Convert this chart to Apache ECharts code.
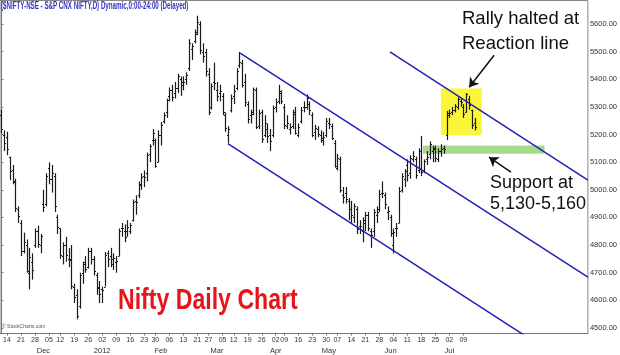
<!DOCTYPE html>
<html><head><meta charset="utf-8">
<script src="https://cdn.jsdelivr.net/npm/echarts@6/dist/echarts.min.js"></script>
<style>html,body{margin:0;padding:0;background:#fff}#c{width:620px;height:355px}</style>
</head><body><div id="c"></div>
<script>
// ---- trading calendar (NSE) ----
const startDate = '2011-11-09';
const endDate = '2012-07-13';
const holidays = ['2011-11-10','2011-12-06','2012-01-26','2012-02-20','2012-03-08','2012-04-05','2012-04-06','2012-05-01'];
const monthNames = ['Jan','Feb','Mar','Apr','May','Jun','Jul','Aug','Sep','Oct','Nov','Dec'];

// ---- OHLC values, one per trading day ----
const open = [5270,5200,5190,5120,5070,5030,4930,4880,4780,4800,4700,4740,4800,4850,4800,4950,4950,5080,5040,5050,4900,
4860,4760,4800,4750,4750,4650,4620,4580,4700,4740,4720,4780,4750,4690,4650,
4640,4650,4770,4760,4730,4740,4760,4860,4850,4850,4850,4890,4960,4980,5020,5050,5060,5130,5180,5180,5100,
5200,5250,5280,5340,5360,5350,5370,5400,5390,5400,5440,5510,5540,5570,5600,5500,5500,5420,5300,5390,
5360,5350,5340,5270,5200,5290,5340,5370,5450,5460,5390,5310,5270,5280,5360,5230,5280,5200,5220,5200,5200,
5300,5320,5350,5300,5230,5220,5230,5280,5200,5250,5300,5300,5310,5270,5210,5220,5200,5180,5200,
5240,5230,5170,5080,5110,4980,4990,4960,4930,4900,4930,4870,4850,4880,4910,4850,4850,4910,4930,4990,4980,4920,
4900,4800,4860,4880,5000,5040,5090,5060,5110,5110,5070,5140,5070,5110,5130,5140,5150,5110,5140,5150,5200,
5270,5280,5290,5300,5320,5300,5280,5330,5290,5240];
const high = [5290,5215,5210,5120,5090,5040,4940,4890,4845,4820,4790,4770,4860,4870,4840,5000,5060,5099,5090,5060,4910,
4860,4810,4830,4790,4800,4660,4640,4700,4740,4760,4790,4790,4760,4700,4670,
4650,4775,4780,4790,4770,4760,4860,4880,4875,4890,4880,4965,4980,5030,5060,5070,5135,5165,5220,5185,5215,
5245,5280,5330,5370,5380,5390,5420,5410,5410,5425,5545,5530,5580,5630,5610,5530,5510,5440,5385,5460,
5390,5380,5350,5280,5230,5345,5380,5440,5499,5470,5420,5320,5290,5370,5370,5290,5290,5270,5240,5220,5305,
5330,5380,5360,5310,5270,5240,5290,5300,5240,5300,5320,5345,5320,5280,5235,5230,5215,5210,5260,
5260,5240,5180,5130,5120,5010,5010,4970,4960,4950,4940,4890,4900,4920,4920,4860,4930,4940,5000,5030,4990,4940,
4910,4860,4880,5010,5060,5075,5110,5125,5140,5120,5150,5195,5110,5140,5175,5160,5160,5150,5165,5160,5285,
5290,5300,5310,5335,5330,5310,5350,5340,5290,5260];
const low = [5205,5140,5125,5035,5020,4920,4880,4760,4770,4700,4640,4675,4790,4790,4770,4920,4940,5020,4990,4920,4840,
4750,4730,4740,4720,4640,4590,4531,4570,4660,4700,4715,4730,4690,4620,4590,
4590,4650,4720,4720,4710,4700,4760,4830,4810,4830,4840,4885,4910,4970,5000,5010,5030,5100,5160,5080,5100,
5160,5240,5260,5320,5320,5330,5350,5340,5360,5380,5430,5470,5530,5560,5490,5460,5410,5270,5290,5360,
5320,5320,5270,5210,5170,5280,5310,5360,5440,5370,5300,5240,5240,5270,5220,5220,5170,5190,5170,5140,5190,
5280,5310,5310,5220,5220,5200,5220,5200,5190,5240,5280,5290,5270,5190,5180,5190,5170,5160,5190,
5220,5180,5080,5070,4990,4950,4950,4890,4880,4880,4840,4840,4810,4850,4850,4790,4830,4880,4920,4970,4930,4890,
4830,4770,4830,4880,4990,5010,5030,5040,5100,5040,5060,5050,5060,5090,5110,5100,5100,5100,5120,5130,5180,
5260,5270,5280,5290,5300,5260,5280,5290,5220,5215];
const close = [5221,5168,5148,5068,5031,4934,4906,4778,4812,4706,4756,4710,4851,4805,4832,4936,5050,5039,5062,4943,4866,
4764,4800,4764,4746,4651,4613,4544,4693,4733,4714,4779,4750,4705,4646,4624,
4636,4765,4749,4749,4754,4743,4850,4860,4831,4866,4873,4955,4956,5018,5048,5046,5127,5158,5205,5087,5199,
5236,5270,5325,5361,5335,5368,5412,5381,5390,5416,5532,5522,5564,5607,5505,5483,5429,5281,5375,5385,
5339,5359,5280,5222,5220,5333,5359,5430,5463,5380,5318,5257,5274,5364,5228,5278,5184,5243,5194,5178,5296,
5318,5358,5322,5234,5243,5226,5276,5207,5226,5289,5300,5332,5290,5200,5222,5202,5189,5190,5248,
5239,5188,5087,5114,4999,4975,4966,4929,4907,4942,4858,4870,4892,4907,4861,4836,4921,4920,4985,4990,4950,4924,
4842,4848,4863,4997,5050,5069,5054,5115,5121,5054,5139,5064,5103,5120,5165,5146,5114,5141,5149,5149,5279,
5278,5287,5302,5327,5316,5275,5346,5306,5235,5227];
const lastValue = 5227.25;

// y-axis tick labels
const yTicks = [4500,4600,4700,4800,4900,5000,5100,5200,5300,5400,5500,5600];

// drawn channel lines: [trading-day index, price]
const channelUpper = [[85.3, 5495], [209.5, 4684]];
const channelLower = [[80.9, 5167], [209.5, 4325]];
const reactionLine = [[138.8, 5499], [209.5, 5035]];
// highlight zones: [[dayFrom, priceFrom],[dayTo, priceTo]]
const rallyBox = [[157.0, 5198], [171.6, 5367]];
const supportZone = [[150.6, 5130], [194.0, 5160]];
// arrows: from -> to
const arrowRally = [[176.0, 5487], [167.1, 5371]];
const arrowSupport = [[182.0, 5064], [174.2, 5118]];

// ---- build calendar ----
function iso(d){return d.toISOString().slice(0,10);}
const dates = [];
(function(){
  let d = new Date(startDate+'T00:00:00Z');
  const end = new Date(endDate+'T00:00:00Z');
  while (d <= end) {
    const wd = d.getUTCDay();
    const s = iso(d);
    if (wd !== 0 && wd !== 6 && holidays.indexOf(s) < 0) dates.push(s);
    d = new Date(d.getTime() + 86400000);
  }
})();
const dObj = dates.map(s => new Date(s+'T00:00:00Z'));
const weekStarts = [], monthStarts = [];
for (let i = 1; i < dates.length; i++) {
  if (dObj[i].getUTCDay() <= dObj[i-1].getUTCDay()) weekStarts.push(i);
  if (dObj[i].getUTCMonth() !== dObj[i-1].getUTCMonth()) monthStarts.push(i);
}
const nSlots = 210;

const ohlc = dates.map((d,i)=>[i, open[i], high[i], low[i], close[i]]);

const sans = '"Liberation Sans",Arial,sans-serif';

const chart = echarts.init(document.getElementById('c'), null, {renderer:'canvas'});
chart.setOption({
  animation: false,
  backgroundColor: '#ffffff',
  grid: {left: 0, right: 31, top: 0.5, bottom: 21.5, show: true, borderColor: '#888', borderWidth: 1, backgroundColor:'#fff'},
  xAxis: [{
    type: 'value', min: -0.5, max: nSlots - 0.5,
    axisLine: {show: true, lineStyle: {color: '#777'}},
    axisTick: {show: true, length: 2, customValues: weekStarts, lineStyle:{color:'#777'}},
    splitLine: {show: false},
    axisLabel: {customValues: weekStarts, margin: 3, fontSize: 7, color: '#333', fontFamily: sans, hideOverlap: false,
      formatter: v => { const d = dObj[Math.round(v)]; return d ? String(d.getUTCDate()).padStart(2,'0') : ''; }}
  },{
    type: 'value', min: -0.5, max: nSlots - 0.5, position: 'bottom', offset: 10,
    axisLine: {show: false}, axisTick: {show: false}, splitLine: {show: false},
    axisLabel: {customValues: monthStarts, margin: 3, fontSize: 7.5, color: '#333', fontFamily: sans,
      formatter: v => { const d = dObj[Math.round(v)]; if (!d) return ''; return d.getUTCMonth() === 0 ? String(d.getUTCFullYear()) : monthNames[d.getUTCMonth()]; }}
  }],
  yAxis: {
    type: 'value', position: 'right', min: 4480, max: 5685,
    axisLine: {show: true, lineStyle: {color: '#777'}},
    axisTick: {show: true, length: 2, customValues: yTicks, lineStyle:{color:'#777'}},
    splitLine: {show: false},
    axisLabel: {customValues: yTicks, margin: 2, fontSize: 7.5, color: '#333', fontFamily: sans,
      formatter: v => v.toFixed(2)}
  },
  series: [
    {
      type: 'scatter', data: [], z: 1, silent: true,
      markArea: {silent: true, data: [
        [{coord: rallyBox[0], itemStyle: {color: '#fcf63a'}}, {coord: rallyBox[1]}],
        [{coord: supportZone[0], itemStyle: {color: '#a9d98c'}}, {coord: supportZone[1]}]
      ]}
    },
    {
      type: 'custom', z: 3, data: ohlc, encode: {x: 0, y: [1,2,3,4]},
      renderItem: function(params, api){
        const x = api.value(0);
        const pO = api.coord([x, api.value(1)]);
        const pH = api.coord([x, api.value(2)]);
        const pL = api.coord([x, api.value(3)]);
        const pC = api.coord([x, api.value(4)]);
        const cx = Math.round(pH[0]) + 0.5;
        const st = {stroke: '#1a1a1a', lineWidth: 1.2};
        return {type: 'group', children: [
          {type: 'line', shape: {x1: cx, y1: pH[1], x2: cx, y2: pL[1]}, style: st},
          {type: 'line', shape: {x1: cx - 1.5, y1: Math.round(pO[1])+0.5, x2: cx, y2: Math.round(pO[1])+0.5}, style: st},
          {type: 'line', shape: {x1: cx, y1: Math.round(pC[1])+0.5, x2: cx + 1.5, y2: Math.round(pC[1])+0.5}, style: st}
        ]};
      },
      markLine: {
        silent: true, symbol: 'none',
        lineStyle: {opacity: 0},
        label: {position: 'end', distance: 2, formatter: () => lastValue.toFixed(2), color: '#fff', backgroundColor: '#000',
          fontSize: 7.5, fontFamily: sans, fontWeight: 'bold', padding: [1, 1]},
        data: [{yAxis: lastValue}]
      }
    },
    {type: 'line', z: 4, data: channelUpper, symbol: 'none', lineStyle: {color: '#2121b8', width: 1.5}, silent: true},
    {type: 'line', z: 4, data: channelLower, symbol: 'none', lineStyle: {color: '#2121b8', width: 1.5}, silent: true},
    {type: 'line', z: 4, data: reactionLine, symbol: 'none', lineStyle: {color: '#2121b8', width: 1.5}, silent: true},
    {
      type: 'scatter', data: [], z: 5, silent: true,
      markLine: {
        silent: true, symbol: ['none', 'arrow'], symbolSize: 9,
        lineStyle: {color: '#111', width: 1.5, type: 'solid'}, label: {show: false},
        data: [
          [{coord: arrowRally[0]}, {coord: arrowRally[1]}],
          [{coord: arrowSupport[0]}, {coord: arrowSupport[1]}]
        ]
      }
    }
  ],
  graphic: [
    {type: 'text', x: 1, y: 1, scaleX: 0.62, z: 10, style: {text: '($NIFTY-NSE - S&P CNX NIFTY,D) Dynamic,0:00-24:00 (Delayed)', fill: '#3434c4', font: 'bold 10px ' + sans}},
    {type: 'text', left: 462, top: 9, z: 10, style: {text: 'Rally halted at', fill: '#111', font: '18.5px ' + sans}},
    {type: 'text', left: 462, top: 34, z: 10, style: {text: 'Reaction line', fill: '#111', font: '18.5px ' + sans}},
    {type: 'text', left: 490, top: 174, z: 10, style: {text: 'Support at', fill: '#111', font: '18px ' + sans}},
    {type: 'text', left: 490, top: 195, z: 10, style: {text: '5,130-5,160', fill: '#111', font: '18px ' + sans}},
    {type: 'text', x: 118, y: 286, scaleX: 0.77, z: 10, style: {text: 'Nifty Daily Chart', fill: '#e8141c', font: 'bold 30px ' + sans}},
    {type: 'text', left: 2, top: 324, z: 10, style: {text: '© StockCharts.com', fill: '#555', font: '5px sans-serif'}}
  ]
});
</script></body></html>
